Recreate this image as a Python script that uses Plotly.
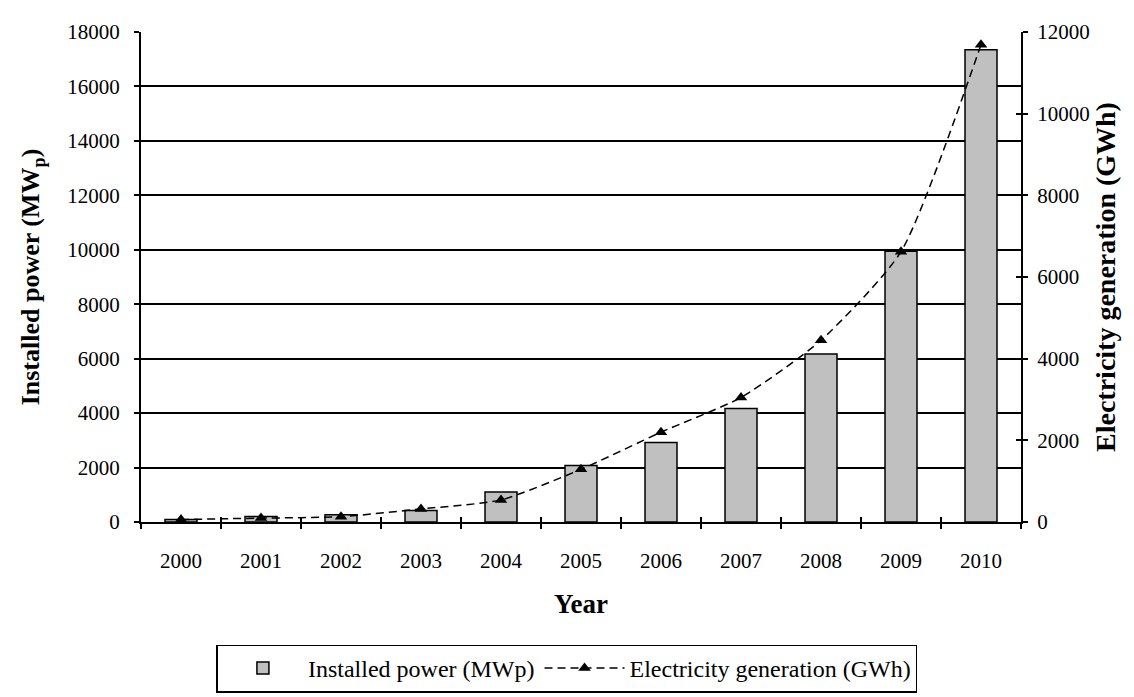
import plotly.graph_objects as go

years = ["2000", "2001", "2002", "2003", "2004", "2005", "2006", "2007", "2008", "2009", "2010"]
installed_mw = [90, 200, 265, 420, 1100, 2080, 2920, 4170, 6170, 9950, 17350]
generation_gwh = [60, 95, 130, 320, 540, 1290, 2200, 3050, 4450, 6620, 11690]

font = "Liberation Serif"
blank = [None] * len(years)

fig = go.Figure()
fig.add_trace(go.Bar(x=years, y=installed_mw, name="Installed power (MWp)",
                     marker=dict(color="#c0c0c0", line=dict(color="black", width=1.5)),
                     width=0.4))
fig.add_trace(go.Scatter(x=years, y=generation_gwh, name="Electricity generation (GWh)",
                         yaxis="y2", mode="lines+markers",
                         line=dict(color="black", width=1.5, dash="8px,5px", shape="spline", smoothing=0.6),
                         marker=dict(symbol="triangle-up", size=11, color="black")))
# empty traces so the inner halves of the crossing ticks get drawn
fig.add_trace(go.Scatter(x=years, y=blank, xaxis="x2", yaxis="y3", showlegend=False, hoverinfo="skip"))
fig.add_trace(go.Scatter(x=years, y=blank, yaxis="y4", showlegend=False, hoverinfo="skip"))

tick = dict(ticklen=5, tickwidth=1.5, tickcolor="black")

fig.update_layout(
    width=1134, height=697,
    margin=dict(l=133, r=121, t=16, b=176),
    plot_bgcolor="white", paper_bgcolor="white",
    font=dict(family=font, size=21, color="black"),
    xaxis=dict(type="category", range=[-0.5, 10.5], tickson="boundaries", ticks="outside", **tick,
               showline=True, linecolor="black", linewidth=1.5, ticklabelstandoff=19,
               title=dict(text="<b>Year</b>", font=dict(family=font, size=27), standoff=22)),
    xaxis2=dict(type="category", range=[-0.5, 10.5], overlaying="x", anchor="y", tickson="boundaries",
                ticks="inside", **tick, showticklabels=False, showgrid=False),
    yaxis=dict(range=[0, 18000], dtick=2000, tickformat="d", showgrid=True, gridcolor="black", gridwidth=1.5,
               ticks="outside", **tick, showline=True, linecolor="black", linewidth=2, zeroline=False,
               ticklabelstandoff=10,
               title=dict(text="<b>Installed power (MW<sub>p</sub>)</b>", font=dict(family=font, size=26), standoff=20)),
    yaxis3=dict(range=[0, 18000], dtick=2000, overlaying="y", side="left", ticks="inside", **tick,
                showticklabels=False, showgrid=False, zeroline=False),
    yaxis2=dict(range=[0, 12000], dtick=2000, tickformat="d", overlaying="y", side="right", showgrid=False,
                ticks="outside", **tick, showline=True, linecolor="black", linewidth=2, zeroline=False,
                ticklabelstandoff=5,
                title=dict(text="<b>Electricity generation (GWh)</b>", font=dict(family=font, size=28), standoff=6)),
    yaxis4=dict(range=[0, 12000], dtick=2000, overlaying="y", side="right", ticks="inside", **tick,
                showticklabels=False, showgrid=False, zeroline=False),
    legend=dict(orientation="h", x=0.484, xanchor="center", y=-0.25, yanchor="top",
                bordercolor="black", borderwidth=1.5, font=dict(family=font, size=24), itemwidth=80),
    bargap=0.6,
)

fig.write_html("out.html")
